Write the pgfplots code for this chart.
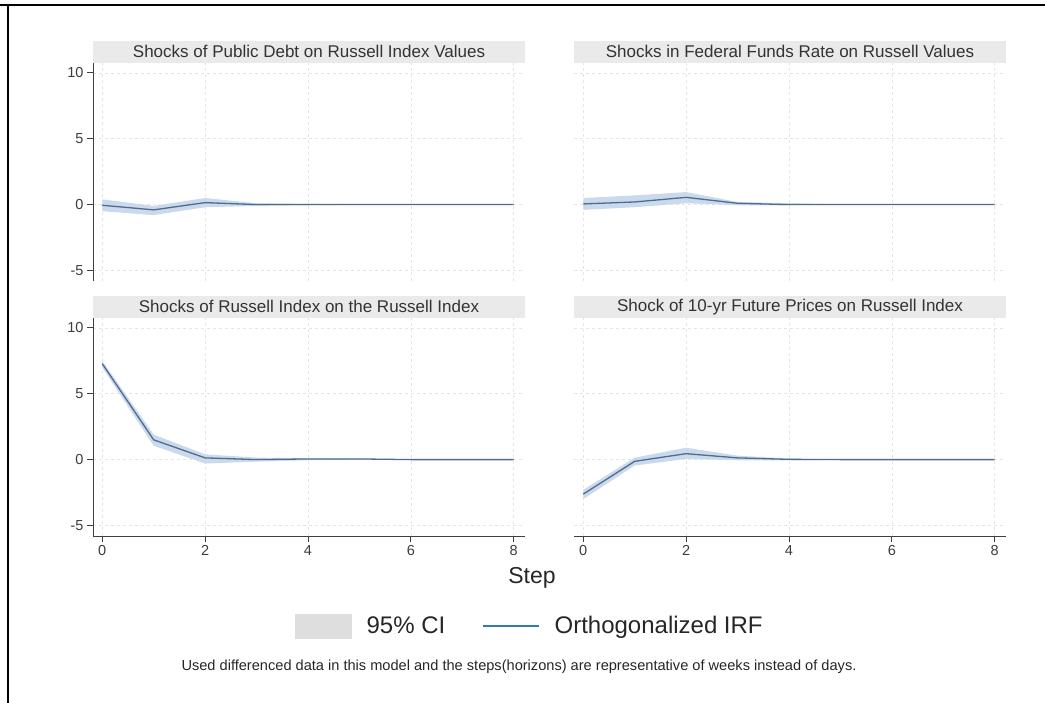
\documentclass[border=0pt]{standalone}
\usepackage{pgfplots}
\pgfplotsset{compat=1.18}
\usepackage{fontspec}
\setmainfont{Liberation Sans}
\definecolor{irfline}{RGB}{78,108,146}
\definecolor{cifill}{RGB}{203,217,236}
\definecolor{legline}{RGB}{52,120,180}
\definecolor{titlebg}{RGB}{234,234,234}
\definecolor{ticktext}{RGB}{60,60,60}

\pgfplotsset{
  irf/.style={
    scale only axis, width=432pt, height=218pt,
    xmin=-0.18, xmax=8.22, ymin=-5.8, ymax=10.75,
    xtick={0,2,4,6,8}, ytick={-5,0,5,10},
    grid=major, grid style={dashed, black!10, line width=0.6pt},
    axis lines*=left,
    axis line style={black!75, line width=0.8pt},
    tick align=outside, major tick length=6pt,
    tick style={black!75, line width=0.8pt},
    /pgf/number format/assume math mode=true,
    tick label style={font=\fontsize{14.5}{16}\selectfont, text=ticktext},
    title style={fill=titlebg, minimum width=432pt,
      minimum height=22pt, inner sep=0pt, yshift=-6pt,
      font=\fontsize{17}{19}\selectfont, text=black!80},
  },
  nox/.style={x axis line style={draw=none}, xtick style={draw=none}, xticklabel=\empty},
  noy/.style={y axis line style={draw=none}, ytick style={draw=none}, yticklabel=\empty},
}

\begin{document}
\begin{tikzpicture}
\useasboundingbox (0pt,0pt) rectangle (1045pt,-703pt);
\draw[line width=2.5pt] (0pt,-5pt) -- (1045pt,-5pt);
\draw[line width=2.5pt] (8pt,-5pt) -- (8pt,-703pt);

\begin{axis}[irf, nox, at={(93pt,-281pt)}, anchor=south west,
  title={Shocks of Public Debt on Russell Index Values}]
  \addplot[fill=cifill, draw=none] coordinates {
    (0,0.40) (1,-0.10) (2,0.50) (3,0.10) (4,0.05) (5,0.02) (6,0.01) (7,0.01) (8,0.01)
    (8,-0.01) (7,-0.01) (6,-0.01) (5,-0.02) (4,-0.05) (3,-0.10) (2,-0.20) (1,-0.80) (0,-0.50)} -- cycle;
  \addplot[irfline, line width=1.3pt] coordinates {
    (0,-0.05) (1,-0.40) (2,0.15) (3,0) (4,0) (5,0) (6,0) (7,0) (8,0)};
\end{axis}

\begin{axis}[irf, nox, noy, at={(574pt,-281pt)}, anchor=south west,
  title={Shocks in Federal Funds Rate on Russell Values}]
  \addplot[fill=cifill, draw=none] coordinates {
    (0,0.50) (1,0.70) (2,0.95) (3,0.20) (4,0.10) (5,0.02) (6,0.01) (7,0.01) (8,0.01)
    (8,-0.01) (7,-0.01) (6,-0.01) (5,-0.02) (4,-0.05) (3,-0.05) (2,0.10) (1,-0.20) (0,-0.40)} -- cycle;
  \addplot[irfline, line width=1.3pt] coordinates {
    (0,0.05) (1,0.20) (2,0.55) (3,0.10) (4,0) (5,0) (6,0) (7,0) (8,0)};
\end{axis}

\begin{axis}[irf, at={(93pt,-536pt)}, anchor=south west,
  title={Shocks of Russell Index on the Russell Index}]
  \addplot[fill=cifill, draw=none] coordinates {
    (0,7.50) (1,1.90) (2,0.40) (3,0.15) (4,0.10) (5,0.08) (6,0.02) (7,0.01) (8,0.01)
    (8,-0.01) (7,-0.01) (6,-0.02) (5,0.00) (4,-0.05) (3,-0.15) (2,-0.30) (1,1.05) (0,7.00)} -- cycle;
  \addplot[irfline, line width=1.3pt] coordinates {
    (0,7.28) (1,1.50) (2,0.13) (3,0) (4,0.05) (5,0.05) (6,0) (7,0) (8,0)};
\end{axis}

\begin{axis}[irf, noy, at={(574pt,-536pt)}, anchor=south west,
  title={Shock of 10-yr Future Prices on Russell Index}]
  \addplot[fill=cifill, draw=none] coordinates {
    (0,-2.30) (1,0.15) (2,0.90) (3,0.30) (4,0.08) (5,0.02) (6,0.01) (7,0.01) (8,0.01)
    (8,-0.01) (7,-0.01) (6,-0.01) (5,-0.02) (4,-0.05) (3,-0.05) (2,0.05) (1,-0.45) (0,-3.00)} -- cycle;
  \addplot[irfline, line width=1.3pt] coordinates {
    (0,-2.62) (1,-0.13) (2,0.45) (3,0.13) (4,0.02) (5,0) (6,0) (7,0) (8,0)};
\end{axis}

\node[font=\fontsize{23}{26}\selectfont, text=black!85] at (532pt,-578pt) {Step};

\begin{axis}[hide axis, scale only axis, width=10pt, height=10pt,
  xmin=0, xmax=1, ymin=0, ymax=1, at={(295pt,-626pt)}, anchor=west,
  legend columns=2,
  legend style={draw=none, fill=none, at={(0,0.5)}, anchor=west,
    font=\fontsize{24}{28}\selectfont, text=black!85,
    nodes={inner sep=0pt},
    /tikz/every odd column/.append style={column sep=15pt},
    /tikz/every even column/.append style={column sep=37pt},
    legend cell align=left, inner sep=0pt},
  ]
\addplot[draw=none, forget plot] coordinates {(0,0) (1,1)};
\addlegendimage{legend image code/.code={\fill[black!13] (0pt,-12pt) rectangle (56pt,12pt);}}
\addlegendentry{95\% CI}
\addlegendimage{legend image code/.code={\draw[legline, line width=1.3pt] (0pt,0pt) -- (56pt,0pt);}}
\addlegendentry{Orthogonalized IRF}
\end{axis}

\node[font=\fontsize{14.6}{16}\selectfont, text=black!85] at (519pt,-667pt)
  {Used differenced data in this model and the steps(horizons) are representative of weeks instead of days.};
\end{tikzpicture}
\end{document}
